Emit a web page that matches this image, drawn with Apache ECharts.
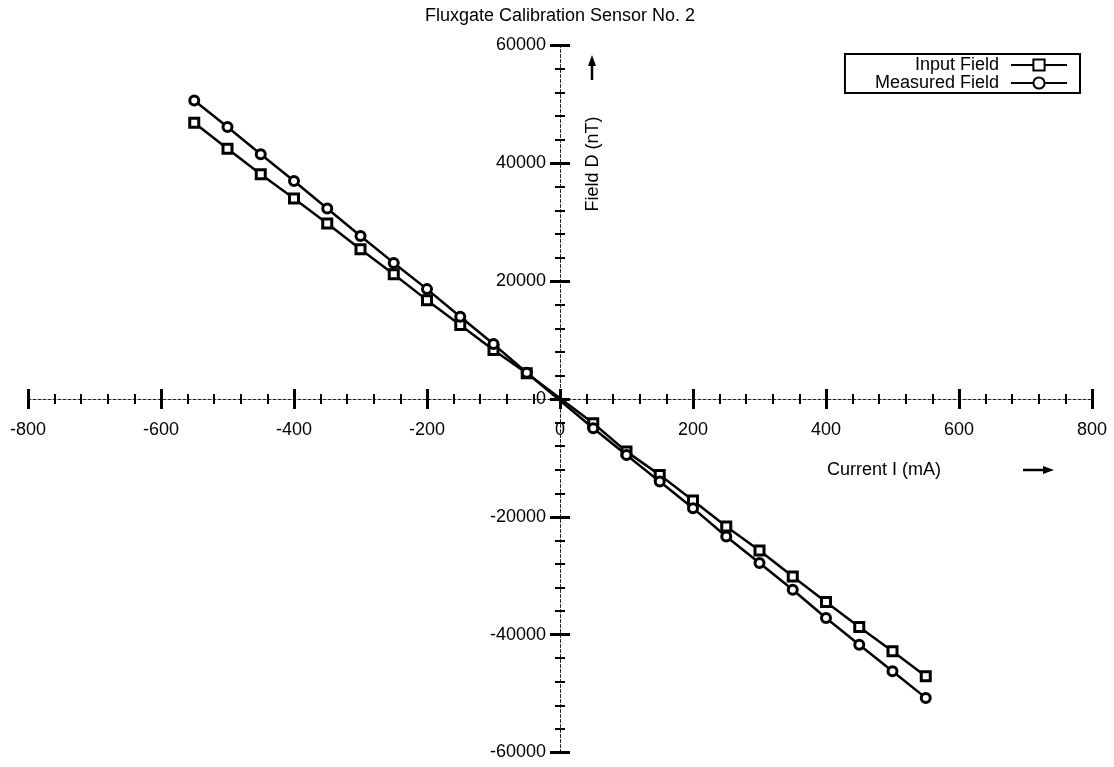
<!DOCTYPE html>
<html>
<head>
<meta charset="utf-8">
<title>Fluxgate Calibration Sensor No. 2</title>
<script src="https://cdn.jsdelivr.net/npm/echarts@6/dist/echarts.min.js"></script>
<style>
  html, body { margin: 0; padding: 0; background: #fff; }
  #chart { width: 1114px; height: 767px; }
</style>
</head>
<body>
<div id="chart"></div>
<script>
// Coil current (mA) for each calibration step
const current = [-550, -500, -450, -400, -350, -300, -250, -200, -150, -100, -50,
                 50, 100, 150, 200, 250, 300, 350, 400, 450, 500, 550];
// Field applied by the coil (nT)
const inputField = [46900, 42490, 38140, 34020, 29780, 25430, 21190, 16780, 12540, 8310, 4360,
                    -4120, -8930, -12880, -17240, -21650, -25710, -30120, -34460, -38700, -42830, -47070];
// Field reported by the fluxgate (nT)
const measuredField = [50680, 46160, 41530, 37000, 32320, 27680, 23100, 18650, 13950, 9320, 4460,
                       -4970, -9490, -14020, -18530, -23340, -27850, -32370, -37170, -41700, -46220, -50730];

const xRange = { min: -800, max: 800, interval: 200 };
const yRange = { min: -60000, max: 60000, interval: 20000 };
const titleText = 'Fluxgate Calibration Sensor No. 2';
const xName = 'Current I (mA)';
const yName = 'Field D (nT)';
const seriesNames = ['Input Field', 'Measured Field'];

const FONT = "'Liberation Sans', Arial, Helvetica, sans-serif";
const INK = '#000';

// Plot area; the axes cross in its middle, at the data origin.
const PLOT = { left: 28, top: 45.5, width: 1064, height: 707 };
const crossX = PLOT.width / 2;   // distance of the vertical axis from either side
const crossY = PLOT.height / 2;  // distance of the horizontal axis from top or bottom

function pairs(xs, ys) { return xs.map((x, i) => [x, ys[i]]); }

// One axis of each pair carries the dotted line, the labels and the outward
// half of every tick; its twin draws the other half, so ticks straddle the line.
function axisPair(dimRange, labelMargin, shift) {
  const common = {
    type: 'value',
    min: dimRange.min, max: dimRange.max, interval: dimRange.interval,
    offset: -shift,
    splitLine: { show: false },
    axisTick: { show: true, length: 10, lineStyle: { color: INK, width: 3 } },
    minorTick: { show: true, splitNumber: 5, length: 5, lineStyle: { color: INK, width: 2 } },
    minorSplitLine: { show: false }
  };
  const primary = Object.assign({}, common, {
    axisLine: { show: true, onZero: false,
                lineStyle: { color: '#222', width: 1, type: [3, 2] } },
    axisLabel: { show: true, margin: labelMargin, color: INK, fontSize: 18, fontFamily: FONT,
                 showMinLabel: true, showMaxLabel: true,
                 formatter: (v) => String(v) }
  });
  const secondary = Object.assign({}, common, {
    axisLine: { show: false, onZero: false },
    axisLabel: { show: false }
  });
  return [primary, secondary];
}

const xAxes = axisPair(xRange, 22, crossY);
xAxes[0].position = 'bottom';
xAxes[1].position = 'top';
const yAxes = axisPair(yRange, 14, crossX);
yAxes[0].position = 'left';
yAxes[1].position = 'right';

const lineSeries = (name, data, symbol, size) => ({
  name, type: 'line', xAxisIndex: 0, yAxisIndex: 0,
  data, symbol, symbolSize: size, showSymbol: true,
  lineStyle: { color: INK, width: 2.5 },
  itemStyle: { color: '#fff', borderColor: INK, borderWidth: 3 },
  emphasis: { disabled: true },
  z: 3
});

const chart = echarts.init(document.getElementById('chart'), null, { renderer: 'canvas' });
chart.setOption({
  animation: false,
  backgroundColor: '#fff',
  title: {
    text: titleText,
    left: 560, top: 7, padding: 0, textAlign: 'center',
    textStyle: { color: INK, fontSize: 18, fontWeight: 'normal', fontFamily: FONT }
  },
  legend: {
    orient: 'vertical', align: 'right',
    right: 34, top: 54,
    padding: [2, 12, 1, 30],
    borderColor: INK, borderWidth: 2, borderRadius: 0,
    itemWidth: 56, itemHeight: 14, itemGap: 0,
    textStyle: { color: INK, fontSize: 18, fontFamily: FONT, lineHeight: 18, padding: [0, 7, 0, 0] },
    data: seriesNames
  },
  grid: { left: PLOT.left, top: PLOT.top, width: PLOT.width, height: PLOT.height,
          containLabel: false, outerBoundsMode: 'none' },
  xAxis: xAxes,
  yAxis: yAxes,
  series: [
    lineSeries(seriesNames[0], pairs(current, inputField), 'rect', 9),
    lineSeries(seriesNames[1], pairs(current, measuredField), 'circle', 9)
  ],
  graphic: [
    { type: 'text', x: 884, y: 470,
      style: { text: xName, fill: INK, font: '18px ' + FONT, align: 'center', verticalAlign: 'middle' } },
    { type: 'line', shape: { x1: 1023, y1: 470, x2: 1046, y2: 470 }, style: { stroke: INK, lineWidth: 2.5 } },
    { type: 'polygon', shape: { points: [[1043, 466], [1054, 470], [1043, 474]] }, style: { fill: INK } },
    { type: 'text', x: 593, y: 164, rotation: Math.PI / 2,
      style: { text: yName, fill: INK, font: '18px ' + FONT, align: 'center', verticalAlign: 'middle' } },
    { type: 'line', shape: { x1: 592, y1: 80, x2: 592, y2: 63 }, style: { stroke: INK, lineWidth: 2.5 } },
    { type: 'polygon', shape: { points: [[588, 66], [592, 55], [596, 66]] }, style: { fill: INK } }
  ]
});
</script>
</body>
</html>
